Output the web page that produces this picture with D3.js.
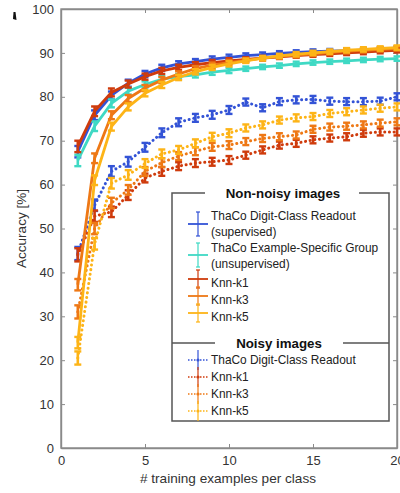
<!DOCTYPE html>
<html>
<head>
<meta charset="utf-8">
<script src="https://cdn.jsdelivr.net/npm/d3@7/dist/d3.min.js"></script>
<style>
  html, body { margin: 0; padding: 0; background: #fff; }
  svg { display: block; font-family: "Liberation Sans", Arial, Helvetica, sans-serif; }
</style>
</head>
<body>
<svg id="chart" width="400" height="493"></svg>
<script>
// Training set size (examples per class)
const examples = d3.range(1, 21);

// Accuracy [%] on non-noisy images
const thacoDigitClean = [67.5, 75.8, 80.3, 83.1, 85.2, 86.6, 87.5, 88.0, 88.6, 89.0, 89.4, 89.6, 89.9, 90.1, 90.3, 90.4, 90.5, 90.6, 90.7, 90.9];
const thacoGroupClean = [65.5, 73.3, 78.5, 81.3, 82.8, 84.0, 84.6, 85.0, 85.6, 86.0, 86.4, 86.8, 87.1, 87.5, 87.8, 88.0, 88.2, 88.4, 88.6, 88.7];
const knnK1Clean = [68.7, 76.7, 81.0, 82.9, 84.6, 85.9, 86.7, 87.3, 87.8, 88.2, 88.5, 88.8, 89.1, 89.4, 89.6, 89.8, 90.0, 90.2, 90.4, 90.6];
const knnK3Clean = [37.2, 66.0, 75.8, 79.6, 82.0, 83.8, 85.2, 86.4, 87.2, 87.8, 88.3, 88.8, 89.2, 89.5, 89.8, 90.1, 90.4, 90.6, 90.8, 91.0];
const knnK5Clean = [24.0, 61.0, 73.2, 77.7, 80.8, 82.7, 84.4, 85.7, 86.7, 87.5, 88.2, 88.8, 89.3, 89.7, 90.0, 90.3, 90.6, 90.8, 91.0, 91.2];

// Accuracy [%] on noisy images
const thacoDigitNoisy = [44.3, 55.3, 63.0, 65.2, 68.5, 71.8, 74.2, 75.2, 75.9, 77.0, 78.8, 77.5, 78.9, 79.3, 79.4, 79.0, 78.9, 78.9, 79.0, 80.0];
const knnK1Noisy = [44.0, 52.8, 53.8, 57.6, 61.5, 63.0, 64.2, 64.9, 65.2, 65.6, 66.7, 67.9, 69.0, 69.4, 70.2, 70.6, 70.9, 71.7, 72.0, 72.0];
const knnK3Noisy = [31.0, 50.0, 55.8, 58.8, 63.0, 65.0, 66.5, 67.6, 68.6, 69.0, 69.8, 70.5, 70.9, 71.3, 72.6, 73.1, 73.3, 73.6, 74.0, 74.3];
const knnK5Noisy = [20.5, 46.5, 60.3, 62.2, 64.8, 67.0, 67.9, 69.4, 70.9, 71.7, 72.9, 73.6, 74.7, 75.2, 75.5, 76.2, 76.6, 77.0, 77.4, 77.7];

// Standard error of the mean for each training size
const errClean = [1.3, 1.1, 0.9, 0.8, 0.7, 0.7, 0.6, 0.6, 0.6, 0.6, 0.5, 0.5, 0.5, 0.5, 0.5, 0.5, 0.5, 0.5, 0.5, 0.5];
const errNoisy = [1.5, 1.3, 1.2, 1.1, 1.0, 1.0, 0.9, 0.9, 0.9, 0.9, 0.8, 0.8, 0.8, 0.8, 0.8, 0.8, 0.8, 0.8, 0.8, 0.8];

// Axis ticks
const xTicks = [0, 5, 10, 15, 20];
const yTicks = [0, 10, 20, 30, 40, 50, 60, 70, 80, 90, 100];

const colors = {
  blue: "#3353d6",
  cyan: "#3fd9c4",
  k1: "#cf3b0c",
  k3: "#ee7815",
  k5: "#fdb417"
};

const cleanSeries = [
  { name: "ThaCo Digit-Class Readout", sub: "(supervised)", values: thacoDigitClean, color: colors.blue },
  { name: "ThaCo Example-Specific Group", sub: "(unsupervised)", values: thacoGroupClean, color: colors.cyan },
  { name: "Knn-k1", values: knnK1Clean, color: colors.k1 },
  { name: "Knn-k3", values: knnK3Clean, color: colors.k3 },
  { name: "Knn-k5", values: knnK5Clean, color: colors.k5 }
];
const noisySeries = [
  { name: "ThaCo Digit-Class Readout", values: thacoDigitNoisy, color: colors.blue },
  { name: "Knn-k1", values: knnK1Noisy, color: colors.k1 },
  { name: "Knn-k3", values: knnK3Noisy, color: colors.k3 },
  { name: "Knn-k5", values: knnK5Noisy, color: colors.k5 }
];

const svg = d3.select("#chart");
const x = d3.scaleLinear().domain([0, 20]).range([61, 397]);
const y = d3.scaleLinear().domain([0, 100]).range([448, 9]);
const axisColor = "#8a8a8a";

// Frame and axes (box with inward ticks)
svg.append("rect")
  .attr("x", x(0)).attr("y", y(100))
  .attr("width", x(20) - x(0)).attr("height", y(0) - y(100))
  .attr("fill", "none").attr("stroke", axisColor).attr("stroke-width", 1.4);

const axL = svg.append("g").attr("transform", `translate(${x(0)},0)`)
  .call(d3.axisLeft(y).tickValues(yTicks).tickSizeInner(-4).tickSizeOuter(0).tickPadding(7));
const axR = svg.append("g").attr("transform", `translate(${x(20)},0)`)
  .call(d3.axisRight(y).tickValues(yTicks).tickSizeInner(-4).tickSizeOuter(0).tickFormat(""));
const axB = svg.append("g").attr("transform", `translate(0,${y(0)})`)
  .call(d3.axisBottom(x).tickValues(xTicks).tickSizeInner(-4).tickSizeOuter(0).tickPadding(8));
const axT = svg.append("g").attr("transform", `translate(0,${y(100)})`)
  .call(d3.axisTop(x).tickValues(xTicks).tickSizeInner(-4).tickSizeOuter(0).tickFormat(""));
[axL, axR, axB, axT].forEach(a => {
  a.select(".domain").attr("stroke", axisColor).attr("stroke-width", 1.4);
  a.selectAll(".tick line").attr("stroke", axisColor).attr("stroke-width", 1);
  a.selectAll(".tick text").attr("fill", "#333").style("font-size", "13px")
    .style("font-family", "'Liberation Sans', Arial, sans-serif");
});

// Axis titles
svg.append("text")
  .attr("transform", `translate(26,${(y(0) + y(100)) / 2}) rotate(-90)`)
  .attr("text-anchor", "middle").attr("fill", "#333").style("font-size", "13.5px")
  .text("Accuracy [%]");
svg.append("text")
  .attr("x", (x(0) + x(20)) / 2 - 1).attr("y", 483)
  .attr("text-anchor", "middle").attr("fill", "#333").style("font-size", "13.6px")
  .text("# training examples per class");

// Stray mark at the top-left corner
svg.append("path")
  .attr("d", "M13.5,12 L15.5,12 L16.5,20 L13,19 Z")
  .attr("fill", "#111");

const line = d3.line().x((d, i) => x(examples[i])).y(d => y(d));

function drawSeries(series, err, dotted) {
  const g = svg.append("g");
  series.forEach(s => {
    g.append("path")
      .attr("d", line(s.values))
      .attr("fill", "none")
      .attr("stroke", s.color)
      .attr("stroke-width", dotted ? 3 : 2.8)
      .attr("stroke-linecap", dotted ? "round" : "butt")
      .attr("stroke-linejoin", "round")
      .attr("stroke-dasharray", dotted ? "0.1,4.6" : null);
    const bars = g.append("g").selectAll("g").data(s.values).join("g");
    bars.append("line")
      .attr("x1", (d, i) => x(examples[i])).attr("x2", (d, i) => x(examples[i]))
      .attr("y1", (d, i) => y(d - err[i])).attr("y2", (d, i) => y(d + err[i]))
      .attr("stroke", s.color).attr("stroke-width", 2.6);
    [-1, 1].forEach(sign => {
      bars.append("line")
        .attr("x1", (d, i) => x(examples[i]) - 3.5).attr("x2", (d, i) => x(examples[i]) + 3.5)
        .attr("y1", (d, i) => y(d + sign * err[i]))
        .attr("y2", (d, i) => y(d + sign * err[i]))
        .attr("stroke", s.color).attr("stroke-width", 2.4);
    });
  });
}

drawSeries(noisySeries, errNoisy, true);
drawSeries(cleanSeries, errClean, false);

// Legend
const leg = svg.append("g");
const lx0 = 172, lx1 = 389, ly0 = 193, lySep = 343, ly1 = 421;
leg.append("rect").attr("x", lx0).attr("y", ly0).attr("width", lx1 - lx0).attr("height", ly1 - ly0)
  .attr("fill", "#fff").attr("stroke", "#555").attr("stroke-width", 1.5);
leg.append("line").attr("x1", lx0).attr("x2", lx1).attr("y1", lySep).attr("y2", lySep)
  .attr("stroke", "#555").attr("stroke-width", 1.5);

function legendTitle(text, cx, cy, x0, x1) {
  leg.append("rect").attr("x", x0).attr("y", cy - 4).attr("width", x1 - x0).attr("height", 8).attr("fill", "#fff");
  leg.append("text").attr("x", cx).attr("y", cy + 5).attr("text-anchor", "middle")
    .attr("fill", "#111").style("font-size", "13.3px").style("font-weight", "bold").text(text);
}
legendTitle("Non-noisy images", 283, 193, 205, 359);
legendTitle("Noisy images", 279, 343, 215, 343);

const iconX = 198, textX = 211;
const cleanRows = [224, 255, 279, 296, 313];
const cleanText = [[216, 232], [248, 264], [283], [300], [317]];
const fs = "11.9px";
cleanSeries.forEach((s, i) => {
  const cy = cleanRows[i];
  const h = i < 2 ? 12 : 9;
  leg.append("line").attr("x1", iconX).attr("x2", iconX).attr("y1", cy - h).attr("y2", cy + h)
    .attr("stroke", s.color).attr("stroke-width", 1.2);
  [cy - h, cy + h].forEach(yy => leg.append("line").attr("x1", iconX - 2).attr("x2", iconX + 2)
    .attr("y1", yy).attr("y2", yy).attr("stroke", s.color).attr("stroke-width", 1.2));
  leg.append("line").attr("x1", iconX - 10).attr("x2", iconX + 10).attr("y1", cy).attr("y2", cy)
    .attr("stroke", s.color).attr("stroke-width", 1.8);
  const lines = s.sub ? [s.name, s.sub] : [s.name];
  lines.forEach((t, j) => leg.append("text").attr("x", textX).attr("y", cleanText[i][j] + 4)
    .attr("fill", "#222").style("font-size", fs).text(t));
});

const noisyRows = [360, 377, 394, 411];
noisySeries.forEach((s, i) => {
  const cy = noisyRows[i];
  leg.append("line").attr("x1", iconX - 10).attr("x2", iconX + 10).attr("y1", cy).attr("y2", cy)
    .attr("stroke", s.color).attr("stroke-width", 1.4).attr("stroke-dasharray", "1.5,1.5");
  leg.append("line").attr("x1", iconX).attr("x2", iconX).attr("y1", cy - 10).attr("y2", cy + 10)
    .attr("stroke", s.color).attr("stroke-width", 1.2);
  leg.append("circle").attr("cx", iconX).attr("cy", cy).attr("r", 1.6).attr("fill", s.color);
  leg.append("text").attr("x", textX).attr("y", cy + 4)
    .attr("fill", "#222").style("font-size", fs).text(s.name);
});
</script>
</body>
</html>
